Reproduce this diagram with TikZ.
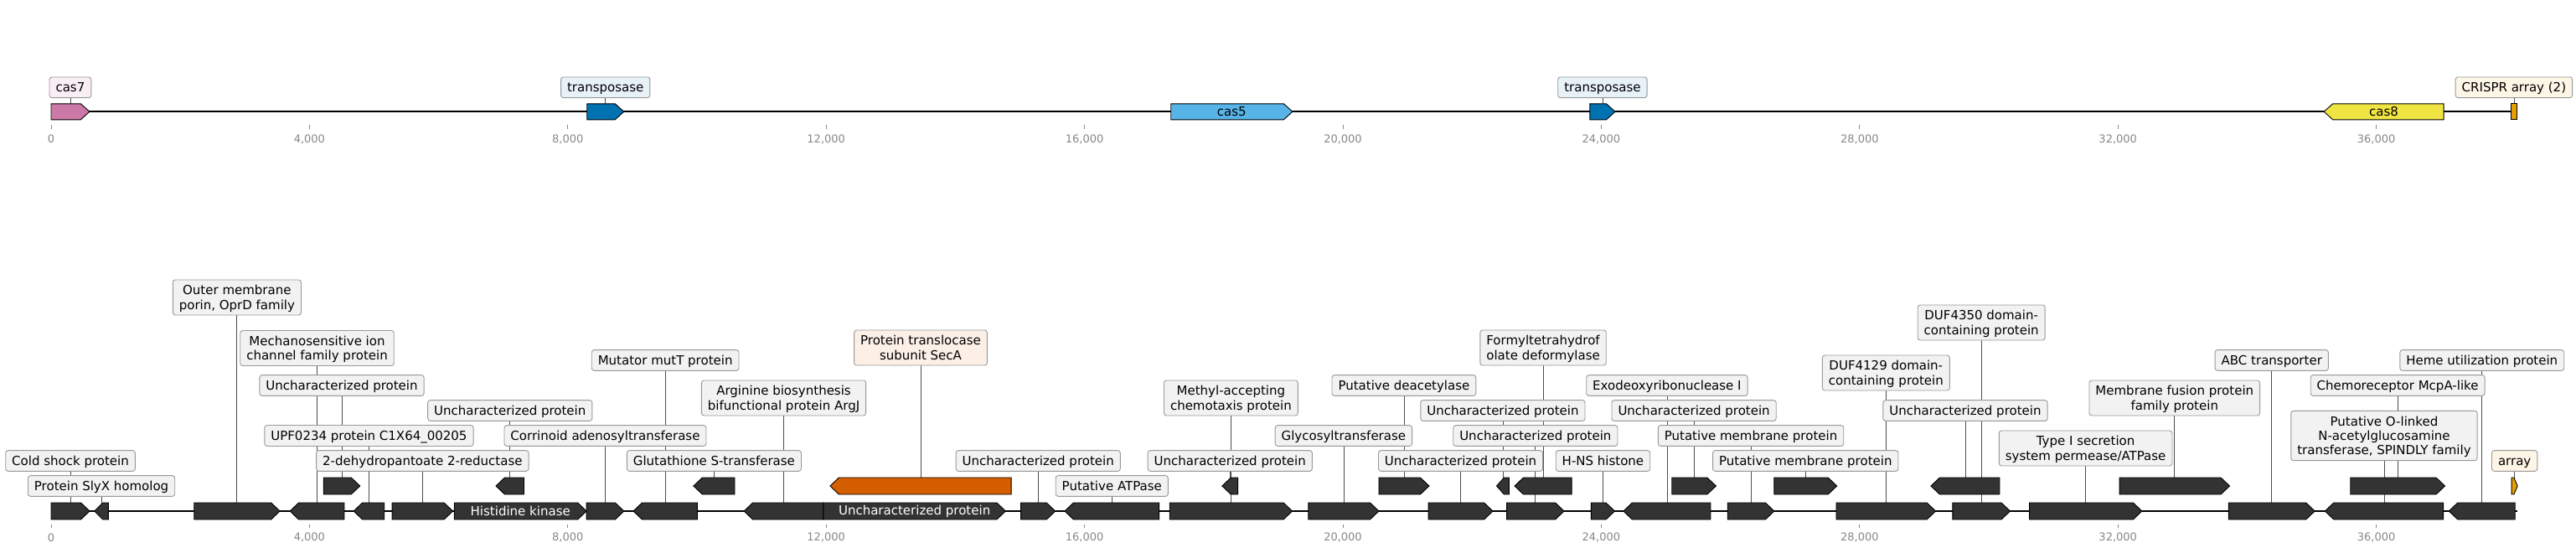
\documentclass[tikz,border=0pt]{standalone}
\usepackage{fontspec}
\setmainfont{DejaVu Sans}
\pgfdeclarelayer{bg}
\pgfdeclarelayer{paper}
\pgfsetlayers{paper,bg,main}
\definecolor{gdark}{HTML}{333333}
\definecolor{lfill}{HTML}{F2F2F2}
\definecolor{lborder}{HTML}{999999}
\definecolor{lconn}{HTML}{4D4D4D}
\definecolor{tickgray}{HTML}{888888}
\definecolor{ccas7}{HTML}{CC79A7}
\definecolor{ctrans}{HTML}{0072B2}
\definecolor{ccas5}{HTML}{56B4E9}
\definecolor{ccas8}{HTML}{F0E442}
\definecolor{ccrispr}{HTML}{E69F00}
\definecolor{csecA}{HTML}{D55E00}
\definecolor{lcas7}{HTML}{F9EEF4}
\definecolor{ltrans}{HTML}{E6F1F8}
\definecolor{lcrispr}{HTML}{FDF5E6}
\definecolor{lsecA}{HTML}{FBEFE6}
\newcommand\lfont{\fontsize{15}{17.3}\selectfont}
\newcommand\tfont{\fontsize{13}{15}\selectfont}
\newcommand\ls{\rule[-3.3pt]{0pt}{17.3pt}}
\newcommand\gh{10}
\newcommand\fgene[5]{%
  \pgfmathsetmacro\hs{min(0.136,0.6*(#3-#2))}%
  \pgfmathsetmacro\hb{#3-\hs}%
  \pgfmathsetmacro\gcen{(#2+#3)/2}%
  \expandafter\xdef\csname gc#1\endcsname{\gcen}%
  \draw[gene,fill=#5] (#2,#4-\gh) -- (\hb,#4-\gh) -- (#3,#4) -- (\hb,#4+\gh) -- (#2,#4+\gh) -- cycle;
  \coordinate (#1) at (\gcen,#4);}
\newcommand\rgene[5]{%
  \pgfmathsetmacro\hs{min(0.136,0.6*(#3-#2))}%
  \pgfmathsetmacro\hb{#2+\hs}%
  \pgfmathsetmacro\gcen{(#2+#3)/2}%
  \expandafter\xdef\csname gc#1\endcsname{\gcen}%
  \draw[gene,fill=#5] (#3,#4-\gh) -- (\hb,#4-\gh) -- (#2,#4) -- (\hb,#4+\gh) -- (#3,#4+\gh) -- cycle;
  \coordinate (#1) at (\gcen,#4);}
\newcommand\bgene[5]{%
  \pgfmathsetmacro\gcen{(#2+#3)/2}%
  \expandafter\xdef\csname gc#1\endcsname{\gcen}%
  \draw[gene,fill=#5] (#2,#4-\gh) rectangle (#3,#4+\gh);
  \coordinate (#1) at (\gcen,#4);}
\newcommand\lab[4]{%
  \edef\lx{\csname gc#1\endcsname}%
  \node[lab,fill=#3] (L#1) at (\lx,#2) {#4};
  \begin{pgfonlayer}{bg}\draw[conn] (#1) -- (L#1.south);\end{pgfonlayer}}
\newcommand\intext[4]{%
  \edef\lx{\csname gc#1\endcsname}%
  \node[font=\lfont,text=#3,inner sep=0pt] (T#1) at (\lx,#2) {#4};}
\tikzset{
  lab/.style={draw=lborder,rounded corners=3pt,line width=0.9pt,inner xsep=7.5pt,inner ysep=3.7pt,align=center,font=\lfont},
  conn/.style={draw=lconn,line width=0.8pt},
  gene/.style={draw=black,line width=0.9pt,line join=miter},
  spine/.style={line width=2pt,draw=black},
  tickmark/.style={draw=tickgray,line width=0.8pt},
  ticklab/.style={text=tickgray,font=\tfont,inner sep=0pt}
}
\begin{document}
\begin{tikzpicture}[x=77.1pt,y=-1pt]
\useasboundingbox (-0.7912,0) rectangle (39.0921,659);
\begin{pgfonlayer}{paper}
\fill[white] (-0.7912,0) rectangle (39.0921,659);
\end{pgfonlayer}
% ticks
\foreach \k/\t in {0/0,4/{4,000},8/{8,000},12/{12,000},16/{16,000},20/{20,000},24/{24,000},28/{28,000},32/{32,000},36/{36,000}} {
  \draw[tickmark] (\k,149.3) -- (\k,154);
  \node[ticklab] (ta\k) at (\k,166) {\t};
  \draw[tickmark] (\k,625.7) -- (\k,630);
  \node[ticklab] (tb\k) at (\k,641.7) {\t};
}
% ---------- top track ----------
\renewcommand\gh{9.5}
\coordinate (spa) at (0,133.3);
\coordinate (spb) at (38.175,133.3);
\draw[spine] (spa) -- (spb);
\fgene{cas7}{0}{0.595}{133.3}{ccas7}
\fgene{tpa}{8.297}{8.868}{133.3}{ctrans}
\fgene{cas5}{17.338}{19.220}{133.3}{ccas5}
\fgene{tpb}{23.824}{24.215}{133.3}{ctrans}
\rgene{cas8}{35.190}{37.043}{133.3}{ccas8}
\bgene{crispr}{38.090}{38.171}{133.3}{ccrispr}
\lab{cas7}{104.3}{lcas7}{\ls cas7}
\lab{tpa}{104.3}{ltrans}{\ls transposase}
\lab{tpb}{104.3}{ltrans}{\ls transposase}
\lab{crispr}{104.3}{lcrispr}{\ls CRISPR array (2)}
\intext{cas5}{133.3}{black}{cas5}
\intext{cas8}{133.3}{black}{cas8}
% ---------- bottom track ----------
\renewcommand\gh{10}
\coordinate (sba) at (0,610);
\coordinate (sbb) at (38.18,610);
\draw[spine] (sba) -- (sbb);
\fgene{g1}{0}{0.597}{610}{gdark}
\rgene{g2}{0.672}{0.887}{610}{gdark}
\fgene{g3}{2.214}{3.542}{610}{gdark}
\rgene{g4}{3.698}{4.539}{610}{gdark}
\rgene{g5}{4.684}{5.159}{610}{gdark}
\fgene{g6}{5.281}{6.220}{610}{gdark}
\fgene{g7}{6.243}{8.290}{610}{gdark}
\fgene{g8}{8.290}{8.869}{610}{gdark}
\rgene{g9}{9.014}{10.004}{610}{gdark}
\rgene{g10}{10.728}{11.957}{610}{gdark}
\fgene{g11}{11.957}{14.778}{610}{gdark}
\fgene{g12}{15.015}{15.548}{610}{gdark}
\rgene{g13}{15.693}{17.155}{610}{gdark}
\fgene{g14}{17.318}{19.216}{610}{gdark}
\fgene{g15}{19.466}{20.557}{610}{gdark}
\fgene{g16}{21.324}{22.322}{610}{gdark}
\fgene{g17}{22.537}{23.425}{610}{gdark}
\fgene{g18}{23.844}{24.209}{610}{gdark}
\rgene{g19}{24.343}{25.693}{610}{gdark}
\fgene{g20}{25.956}{26.678}{610}{gdark}
\fgene{g21}{27.639}{29.178}{610}{gdark}
\fgene{g22}{29.440}{30.331}{610}{gdark}
\fgene{g23}{30.628}{32.371}{610}{gdark}
\fgene{g24}{33.714}{35.048}{610}{gdark}
\rgene{g25}{35.205}{37.038}{610}{gdark}
\rgene{g26}{37.124}{38.148}{610}{gdark}
\fgene{u1}{4.220}{4.782}{580}{gdark}
\rgene{u2}{6.887}{7.322}{580}{gdark}
\rgene{u3}{9.946}{10.584}{580}{gdark}
\rgene{u4}{12.061}{14.865}{580}{csecA}
\rgene{u5}{18.130}{18.374}{580}{gdark}
\fgene{u6}{20.557}{21.335}{580}{gdark}
\rgene{u7}{22.380}{22.572}{580}{gdark}
\rgene{u8}{22.659}{23.542}{580}{gdark}
\fgene{u9}{25.094}{25.777}{580}{gdark}
\fgene{u10}{26.678}{27.648}{580}{gdark}
\rgene{u11}{29.104}{30.168}{580}{gdark}
\fgene{u12}{32.024}{33.729}{580}{gdark}
\fgene{u13}{35.600}{37.062}{580}{gdark}
\fgene{u14}{38.095}{38.186}{580}{ccrispr}
\intext{g7}{610}{white}{Histidine kinase}
\intext{g11}{610}{white}{Uncharacterized protein}
% labels
\lab{g1}{550}{lfill}{\ls Cold shock protein}
\lab{g2}{580}{lfill}{\ls Protein SlyX homolog}
\lab{g3}{355}{lfill}{\ls Outer membrane\\\ls porin, OprD family}
\lab{g4}{415.5}{lfill}{\ls Mechanosensitive ion\\\ls channel family protein}
\lab{g5}{520}{lfill}{\ls UPF0234 protein C1X64\_00205}
\lab{g6}{550}{lfill}{\ls 2-dehydropantoate 2-reductase}
\lab{g8}{520}{lfill}{\ls Corrinoid adenosyltransferase}
\lab{g9}{430}{lfill}{\ls Mutator mutT protein}
\lab{g10}{475}{lfill}{\ls Arginine biosynthesis\\\ls bifunctional protein ArgJ}
\lab{g12}{550}{lfill}{\ls Uncharacterized protein}
\lab{g13}{580}{lfill}{\ls Putative ATPase}
\lab{g14}{475}{lfill}{\ls Methyl-accepting\\\ls chemotaxis protein}
\lab{g15}{520}{lfill}{\ls Glycosyltransferase}
\lab{g16}{550}{lfill}{\ls Uncharacterized protein}
\lab{g17}{520}{lfill}{\ls Uncharacterized protein}
\lab{g18}{550}{lfill}{\ls H-NS histone}
\lab{g19}{460}{lfill}{\ls Exodeoxyribonuclease I}
\lab{g20}{520}{lfill}{\ls Putative membrane protein}
\lab{g21}{445}{lfill}{\ls DUF4129 domain-\\\ls containing protein}
\lab{g22}{385}{lfill}{\ls DUF4350 domain-\\\ls containing protein}
\lab{g23}{535}{lfill}{\ls Type I secretion\\\ls system permease/ATPase}
\lab{g24}{430}{lfill}{\ls ABC transporter}
\lab{g25}{520}{lfill}{\ls Putative O-linked\\\ls N-acetylglucosamine\\\ls transferase, SPINDLY family}
\lab{g26}{430}{lfill}{\ls Heme utilization protein}
\lab{u1}{460}{lfill}{\ls Uncharacterized protein}
\lab{u2}{490}{lfill}{\ls Uncharacterized protein}
\lab{u3}{550}{lfill}{\ls Glutathione S-transferase}
\lab{u4}{415}{lsecA}{\ls Protein translocase\\\ls subunit SecA}
\lab{u5}{550}{lfill}{\ls Uncharacterized protein}
\lab{u6}{460}{lfill}{\ls Putative deacetylase}
\lab{u7}{490}{lfill}{\ls Uncharacterized protein}
\lab{u8}{415}{lfill}{\ls Formyltetrahydrof\\\ls olate deformylase}
\lab{u9}{490}{lfill}{\ls Uncharacterized protein}
\lab{u10}{550}{lfill}{\ls Putative membrane protein}
\lab{u11}{490}{lfill}{\ls Uncharacterized protein}
\lab{u12}{475}{lfill}{\ls Membrane fusion protein\\\ls family protein}
\lab{u13}{460}{lfill}{\ls Chemoreceptor McpA-like}
\lab{u14}{550}{lcrispr}{\ls array}
\end{tikzpicture}
\end{document}
